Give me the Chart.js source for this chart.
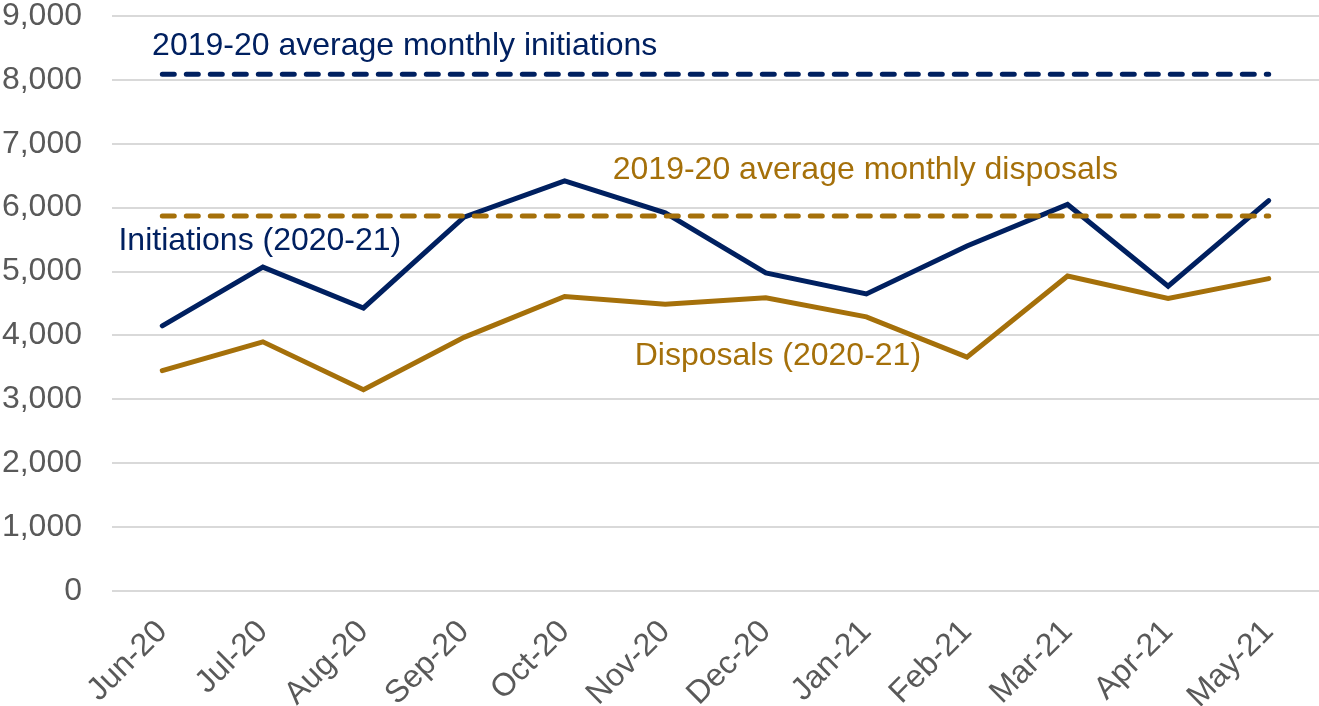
<!DOCTYPE html>
<html>
<head>
<meta charset="utf-8">
<script src="https://cdn.jsdelivr.net/npm/chart.js@4"></script>
<style>
  html, body { margin: 0; padding: 0; background: #fff; }
  #wrap { width: 1319px; height: 706px; }
</style>
</head>
<body>
<div id="wrap"><canvas id="casesChart"></canvas></div>
<script>
// Monthly figures
const months = ['Jun-20', 'Jul-20', 'Aug-20', 'Sep-20', 'Oct-20', 'Nov-20', 'Dec-20', 'Jan-21', 'Feb-21', 'Mar-21', 'Apr-21', 'May-21'];
const initiations = [4150, 5070, 4430, 5850, 6420, 5920, 4980, 4650, 5400, 6050, 4770, 6110];
const disposals = [3450, 3900, 3150, 3970, 4610, 4490, 4590, 4290, 3660, 4930, 4580, 4890];
const avgInitiations1920 = 8090;
const avgDisposals1920 = 5870;
const yTicks = [0, 1000, 2000, 3000, 4000, 5000, 6000, 7000, 8000, 9000];

const NAVY = '#002060';
const GOLD = '#A5700A';

Chart.defaults.font.family = '"Liberation Sans", Arial, sans-serif';
Chart.defaults.font.size = 32;
Chart.defaults.color = '#595959';

// text labels placed in data space (category index, value)
const lineLabels = [
    { text: '2019-20 average monthly initiations', x: 2.41, y: 8530, color: NAVY },
    { text: '2019-20 average monthly disposals', x: 6.99, y: 6580, color: GOLD },
    { text: 'Initiations (2020-21)', x: 0.97, y: 5470, color: NAVY },
    { text: 'Disposals (2020-21)', x: 6.12, y: 3680, color: GOLD }
];

const labelPlugin = {
    id: 'lineLabels',
    afterDatasetsDraw(chart) {
        const ctx = chart.ctx;
        const xs = chart.scales.x, ys = chart.scales.y;
        ctx.save();
        ctx.font = '32px "Liberation Sans", Arial, sans-serif';
        ctx.textAlign = 'center';
        ctx.textBaseline = 'middle';
        lineLabels.forEach(l => {
            ctx.fillStyle = l.color;
            ctx.fillText(l.text, xs.getPixelForValue(l.x), ys.getPixelForValue(l.y));
        });
        ctx.restore();
    }
};

// keep the plot area where the original has it
function fixPadding(axis) {
    axis.paddingLeft = 0;
    axis.paddingRight = 0;
    axis.paddingTop = 0;
    axis.paddingBottom = 0;
}

const ctx = document.getElementById('casesChart').getContext('2d');
new Chart(ctx, {
    type: 'line',
    data: {
        labels: months,
        datasets: [
            {
                label: '2019-20 average monthly initiations',
                data: months.map(() => avgInitiations1920),
                borderColor: NAVY,
                borderWidth: 5,
                borderDash: [12, 12],
                borderCapStyle: 'round',
                pointRadius: 0
            },
            {
                label: '2019-20 average monthly disposals',
                data: months.map(() => avgDisposals1920),
                borderColor: GOLD,
                borderWidth: 5,
                borderDash: [12, 12],
                borderCapStyle: 'round',
                pointRadius: 0
            },
            {
                label: 'Disposals (2020-21)',
                data: disposals,
                borderColor: GOLD,
                borderWidth: 5,
                borderCapStyle: 'round',
                pointRadius: 0
            },
            {
                label: 'Initiations (2020-21)',
                data: initiations,
                borderColor: NAVY,
                borderWidth: 5,
                borderCapStyle: 'round',
                pointRadius: 0
            }
        ]
    },
    options: {
        responsive: true,
        maintainAspectRatio: false,
        animation: false,
        layout: { padding: { left: 0, right: 0, top: 16, bottom: 0 } },
        scales: {
            x: {
                offset: true,
                grid: { display: false },
                border: { display: false },
                ticks: { maxRotation: 45, minRotation: 45, padding: 14, color: '#595959' },
                afterFit: axis => { fixPadding(axis); axis.height = 115; }
            },
            y: {
                min: 0,
                max: 9000,
                afterBuildTicks: axis => { axis.ticks = yTicks.map(v => ({ value: v })); },
                grid: { color: '#D9D9D9', lineWidth: 2, drawTicks: false },
                border: { display: false },
                ticks: {
                    padding: 30,
                    color: '#595959',
                    callback: v => v.toLocaleString('en-US')
                },
                afterFit: axis => { fixPadding(axis); axis.width = 112; }
            }
        },
        plugins: {
            legend: { display: false },
            tooltip: { enabled: false }
        }
    },
    plugins: [labelPlugin]
});
</script>
</body>
</html>
